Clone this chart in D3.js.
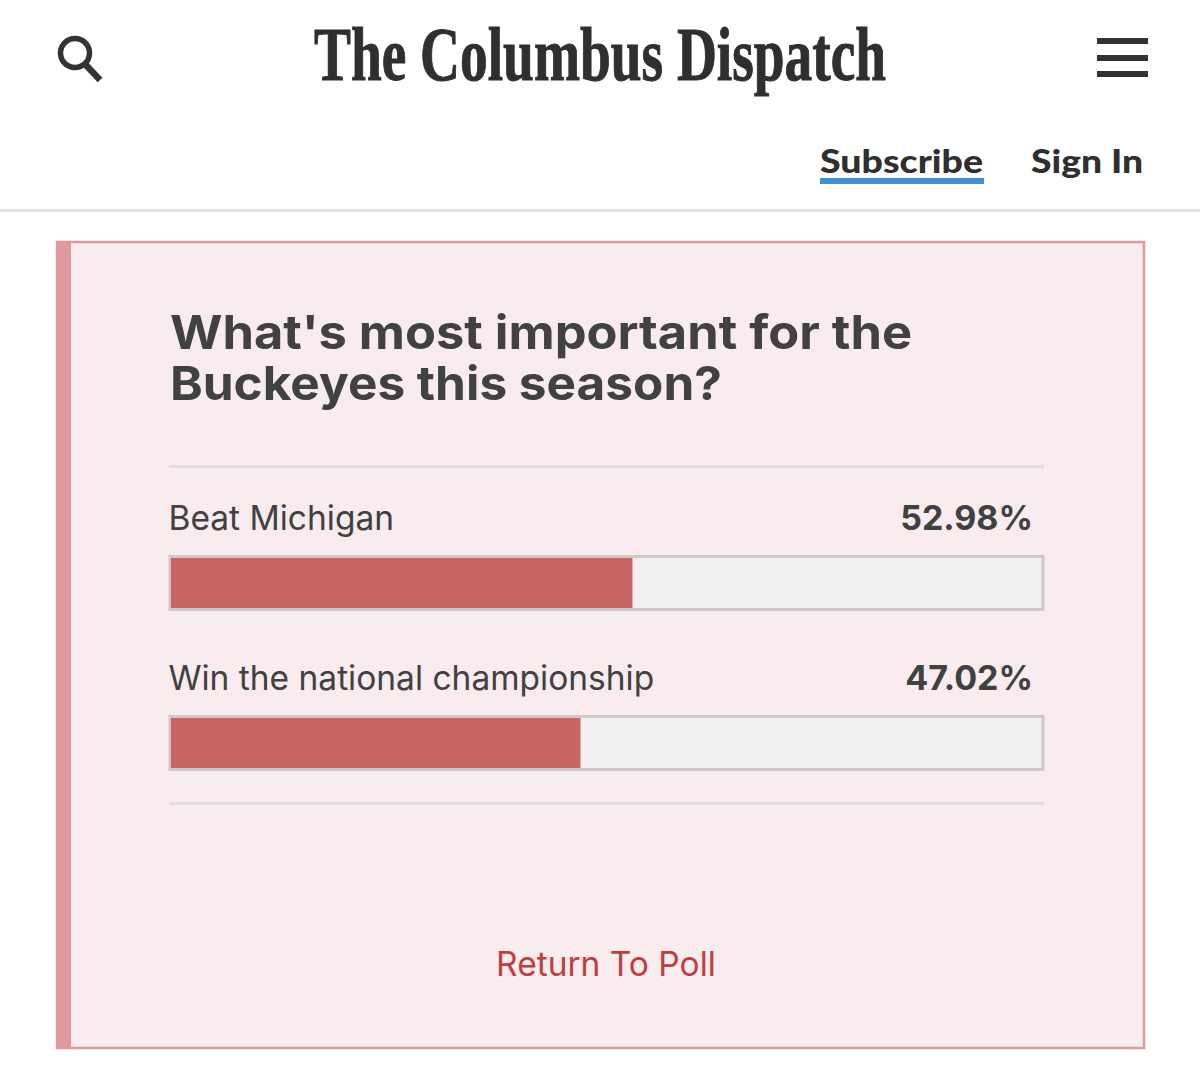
<!DOCTYPE html>
<html><head><meta charset="utf-8">
<script src="https://cdn.jsdelivr.net/npm/d3@7"></script>
<style>html,body{margin:0;padding:0;background:#fff}svg{display:block}text{font-family:Inter,"Noto Sans",sans-serif}</style>
</head><body><svg id="c" width="1200" height="1086"></svg>
<script>
const categories = ["Beat Michigan", "Win the national championship"];
const percentages = [52.98, 47.02];
const valueLabels = ["52.98%", "47.02%"];
const titleLines = ["What's most important for the", "Buckeyes this season?"];

const svg = d3.select("#c");
const ink = "#414141";

// header
svg.append("circle").attr("cx",75).attr("cy",53).attr("r",14.5).attr("fill","none").attr("stroke","#333").attr("stroke-width",5.5);
svg.append("line").attr("x1",85).attr("y1",64).attr("x2",100).attr("y2",80).attr("stroke","#333").attr("stroke-width",6.5);

svg.append("text").attr("x",600).attr("y",80).attr("text-anchor","middle")
  .attr("textLength",572).attr("lengthAdjust","spacingAndGlyphs")
  .style("font-family",'"Liberation Serif",serif').style("font-weight",700).style("font-size","76px")
  .attr("fill","#2f2f2f").attr("stroke","#2f2f2f").attr("stroke-width",1).text("The Columbus Dispatch");

svg.selectAll("rect.menu").data([38,55,71]).join("rect").attr("class","menu")
  .attr("x",1097).attr("y",d=>d).attr("width",51).attr("height",6).attr("fill","#333");

const navFont = 'Lato,"Open Sans",sans-serif';
svg.append("text").attr("x",820).attr("y",173).attr("textLength",163).attr("lengthAdjust","spacingAndGlyphs")
  .style("font-family",navFont).style("font-size","33px").style("font-weight",900).attr("fill","#2f2f2f").text("Subscribe");
svg.append("rect").attr("x",820).attr("y",178).attr("width",164).attr("height",6).attr("fill","#4390d8");
svg.append("text").attr("x",1031).attr("y",173).attr("textLength",112).attr("lengthAdjust","spacingAndGlyphs")
  .style("font-family",navFont).style("font-size","33px").style("font-weight",900).attr("fill","#2f2f2f").text("Sign In");
svg.append("rect").attr("x",0).attr("y",209).attr("width",1200).attr("height",3).attr("fill","#e3e3e3");

// card
svg.append("rect").attr("x",57).attr("y",242).attr("width",1087).attr("height",806)
  .attr("fill","#f8ecee").attr("stroke","#dd9a9d").attr("stroke-width",2.5);
svg.append("rect").attr("x",56).attr("y",241).attr("width",15).attr("height",808).attr("fill","#e09a9c");

// title
const titleWidths = [742, 552];
svg.selectAll("text.title").data(titleLines).join("text").attr("class","title")
  .attr("x",170).attr("y",(d,i)=>349+i*51)
  .attr("textLength",(d,i)=>titleWidths[i]).attr("lengthAdjust","spacingAndGlyphs")
  .style("font-size","47px").style("font-weight",700).attr("fill",ink).text(d=>d);

// rules
svg.selectAll("rect.rule").data([465,802]).join("rect").attr("class","rule")
  .attr("x",169).attr("y",d=>d).attr("width",875).attr("height",3).attr("fill","#e2dcdd");

// chart
const x = d3.scaleLinear().domain([0,100]).range([171,1042]);
const y = d3.scaleBand().domain(categories).range([518,838]);
const rows = svg.selectAll("g.row").data(categories.map((c,i)=>({c,v:percentages[i],l:valueLabels[i]}))).join("g")
  .attr("class","row").attr("transform",d=>`translate(0,${y(d.c)})`);

rows.append("text").attr("x",168.5).attr("y",12).style("font-size","33.5px").attr("fill",ink).text(d=>d.c);
rows.append("text").attr("x",1033).attr("y",12).attr("text-anchor","end").style("font-size","34px").style("font-weight",700).attr("fill",ink).text(d=>d.l);
rows.append("rect").attr("x",x(0)-1).attr("y",38.5).attr("width",x(100)-x(0)+2).attr("height",53)
  .attr("fill","#f0f0f0").attr("stroke","#cfc9ca").attr("stroke-width",3);
rows.append("rect").attr("x",x(0)).attr("y",40).attr("width",d=>x(d.v)-x(0)).attr("height",50).attr("fill","#c96562");

svg.append("text").attr("x",606).attr("y",976).attr("text-anchor","middle")
  .style("font-size","33.5px").attr("fill","#bd3f3f").text("Return To Poll");
</script></body></html>
